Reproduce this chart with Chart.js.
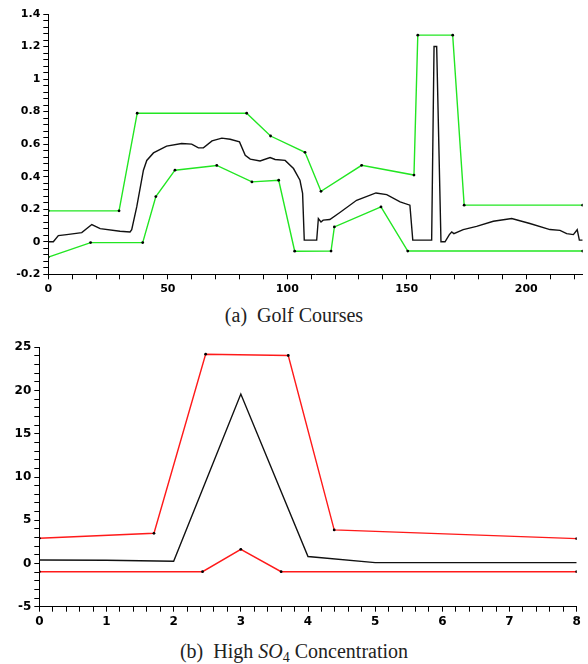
<!DOCTYPE html>
<html lang="en">
<head>
<meta charset="UTF-8">
<title>Golf Courses / High SO4 Concentration</title>
<script src="https://cdn.jsdelivr.net/npm/chart.js"></script>
<style>
    body { margin: 0; background: #fff; width: 588px; height: 664px; overflow: hidden; position: relative; }
    .box { position: absolute; left: 0; width: 588px; height: 300px; }
    .caption { position: absolute; left: 0; width: 588px; text-align: center;
               font-family: "Liberation Serif", "DejaVu Serif", serif; font-size: 20px; line-height: 24px; color: #222; }
    .caption i { font-style: italic; }
    .caption sub { font-size: 14px; vertical-align: -4px; line-height: 0; }
</style>
</head>
<body>

<div class="box" style="top:0"><canvas id="golfChart"></canvas></div>
<div class="caption" style="top:303px">(a)&nbsp; Golf Courses</div>

<div class="box" style="top:330px"><canvas id="so4Chart"></canvas></div>
<div class="caption" style="top:639px">(b)&nbsp; High <i>SO</i><sub>4</sub> Concentration</div>

<script>
// (a) Golf Courses
const golfMeanX = [0, 2.1, 4.2, 7.7, 14, 18.2, 21.7, 30, 34.2, 34.9,
    37, 39.8, 41.2, 44, 49.5, 55.8, 60, 62.8, 64.9, 68.5,
    72.6, 76.1, 80, 82.4, 84.5, 88.6, 92.8, 94.9, 99.1, 102.6,
    105.3, 106.4, 107.1, 112.3, 113, 114.1, 115, 117.8, 122, 129,
    137.1, 141.6, 147.2, 151.3, 152.5, 160.4, 161.4, 162.5, 164.3, 166,
    167.8, 168.8, 169.7, 173.6, 179.2, 186.2, 193.9, 201.5, 209.9, 214.1,
    216.9, 219.7, 221.3, 222.2, 223.6];
const golfMeanY = [0, 0, 0.038, 0.044, 0.056, 0.106, 0.081, 0.065, 0.06, 0.074,
    0.214, 0.44, 0.50, 0.546, 0.588, 0.604, 0.60, 0.577, 0.577, 0.62,
    0.637, 0.63, 0.614, 0.532, 0.508, 0.497, 0.518, 0.506, 0.50, 0.45,
    0.378, 0.297, 0.01, 0.01, 0.143, 0.122, 0.133, 0.137, 0.18, 0.255,
    0.30, 0.29, 0.245, 0.225, 0.01, 0.01, 1.2, 1.2, 0.0, 0.0,
    0.044, 0.06, 0.05, 0.075, 0.095, 0.126, 0.143, 0.112, 0.075, 0.07,
    0.05, 0.044, 0.074, 0.01, 0.01];
const golfUpperX = [0, 29.6, 37.2, 83, 93, 107.4, 114.1, 131.1, 153, 154.6, 169.2, 174, 223.6];
const golfUpperY = [0.19, 0.19, 0.79, 0.79, 0.65, 0.55, 0.31, 0.47, 0.41, 1.27, 1.27, 0.225, 0.225];
const golfLowerX = [0, 17.7, 39.5, 45, 53, 70.5, 85.2, 96.4, 103.1, 118.3, 119.7, 139.2, 150.4, 223.6];
const golfLowerY = [-0.094, -0.005, -0.005, 0.278, 0.44, 0.469, 0.368, 0.378, -0.058, -0.057, 0.091, 0.214, -0.057, -0.057];

// (b) High SO4 Concentration
const so4MeanX = [0, 1, 2, 3, 4, 5, 6, 7, 8];
const so4MeanY = [0.4, 0.38, 0.25, 19.6, 0.8, 0.1, 0.1, 0.1, 0.1];
const so4UpperX = [0, 1.707, 2.476, 3.706, 4.39, 8];
const so4UpperY = [2.91, 3.49, 24.2, 24.05, 3.88, 2.87];
const so4LowerX = [0, 2.43, 3, 3.6, 8];
const so4LowerY = [-0.95, -0.95, 1.64, -0.95, -0.95];

const GREEN = '#22e622';
const RED = '#ff1a1a';

function pts(xs, ys) {
    return xs.map((x, i) => ({ x: x, y: ys[i] }));
}

function bandSet(xs, ys, color) {
    return {
        data: pts(xs, ys),
        borderColor: color,
        borderWidth: 1.4,
        pointRadius: 1.4,
        pointBorderWidth: 0,
        pointBackgroundColor: '#000',
        tension: 0
    };
}

function meanSet(xs, ys) {
    return {
        data: pts(xs, ys),
        borderColor: '#111',
        borderWidth: 1.4,
        pointRadius: 0,
        tension: 0
    };
}

// every minor step gets a tick mark, only multiples of the major step get a label
function axis(min, max, minor, major, fontSize, fitSize, horizontal) {
    return {
        type: 'linear',
        min: min,
        max: max,
        grid: { drawOnChartArea: false, drawTicks: true, tickLength: 5, color: '#000', tickWidth: 1 },
        border: { display: true, color: '#000', width: 1 },
        ticks: {
            stepSize: minor,
            includeBounds: false,
            autoSkip: false,
            maxRotation: 0,
            padding: 3,
            color: '#000',
            font: { family: 'DejaVu Sans', size: fontSize, weight: 'bold' },
            callback: function (value) {
                const r = value / major;
                if (Math.abs(r - Math.round(r)) > 1e-6) return '';
                return String(Number(value.toFixed(2)));
            }
        },
        afterFit: function (scale) {
            if (horizontal) scale.height = fitSize;
            else scale.width = fitSize;
        }
    };
}

function makeChart(id, datasets, xAxis, yAxis, padding) {
    new Chart(document.getElementById(id), {
        type: 'scatter',
        data: { datasets: datasets.map(d => Object.assign({ showLine: true }, d)) },
        options: {
            responsive: true,
            maintainAspectRatio: false,
            animation: false,
            layout: { padding: padding },
            plugins: { legend: { display: false }, tooltip: { enabled: false } },
            scales: { x: xAxis, y: yAxis }
        }
    });
}

makeChart('golfChart',
    [meanSet(golfMeanX, golfMeanY), bandSet(golfUpperX, golfUpperY, GREEN), bandSet(golfLowerX, golfLowerY, GREEN)],
    axis(0, 223.6, 10, 50, 11, 25.7, true),
    axis(-0.2, 1.4, 0.04, 0.2, 11, 48.3, false),
    { top: 14, right: 5.3, left: 0, bottom: 0 });

makeChart('so4Chart',
    [meanSet(so4MeanX, so4MeanY), bandSet(so4UpperX, so4UpperY, RED), bandSet(so4LowerX, so4LowerY, RED)],
    axis(0, 8, 0.2, 1, 12, 23.3, true),
    axis(-5, 25, 1, 5, 12, 39.3, false),
    { top: 17.3, right: 11.3, left: 0, bottom: 0 });
</script>
</body>
</html>
